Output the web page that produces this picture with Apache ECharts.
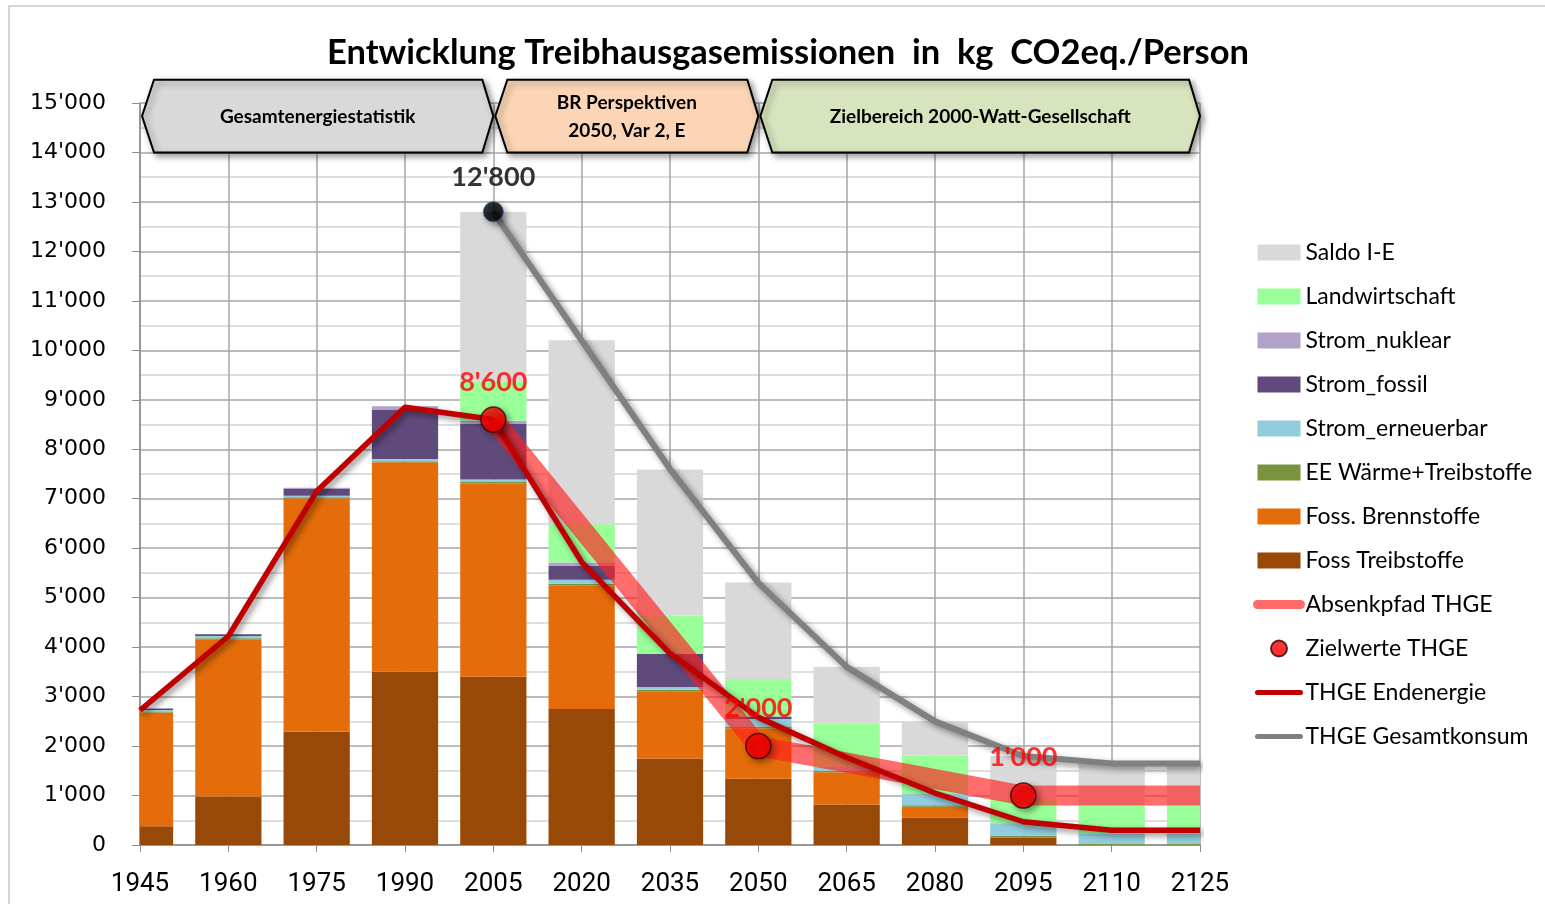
<!DOCTYPE html>
<html>
<head>
<meta charset="utf-8">
<script src="https://cdn.jsdelivr.net/npm/echarts@6/dist/echarts.min.js"></script>
<style>
html, body { margin: 0; padding: 0; background: #fff; }
#chart { width: 1545px; height: 904px; }
</style>
</head>
<body>
<div id="chart"></div>
<script>
var myChart = echarts.init(document.getElementById('chart'));

// Stuetzjahre
var years = [1945, 1960, 1975, 1990, 2005, 2020, 2035, 2050, 2065, 2080, 2095, 2110, 2125];

// gestapelte Anteile in kg CO2eq./Person (von unten nach oben)
var fossTreibstoffe   = [380, 980, 2290, 3500, 3400, 2750, 1750, 1340, 820, 550, 150, 0, 0];
var fossBrennstoffe   = [2300, 3180, 4720, 4240, 3910, 2490, 1360, 1020, 650, 225, 0, 0, 0];
var eeWaerme          = [20, 20, 20, 20, 30, 40, 30, 35, 30, 30, 35, 30, 30];
var stromErneuerbar   = [30, 45, 30, 45, 50, 80, 55, 150, 80, 225, 255, 205, 205];
var stromFossil       = [30, 35, 135, 1000, 1130, 285, 665, 55, 0, 0, 0, 0, 0];
var stromNuklear      = [0, 0, 25, 65, 55, 65, 0, 0, 0, 0, 0, 0, 0];
var landwirtschaft    = [0, 0, 0, 0, 800, 775, 780, 755, 880, 775, 470, 560, 560];
var saldoIE           = [0, 0, 0, 0, 3420, 3720, 2950, 1950, 1140, 695, 890, 855, 855];

// Linien
var endenergie        = [2720, 4220, 7150, 8850, 8600, 5720, 3870, 2580, 1770, 1050, 470, 300, 300];
var gesamtJahre       = [2005, 2020, 2035, 2050, 2065, 2080, 2095, 2110, 2125];
var gesamtkonsum      = [12800, 10200, 7600, 5300, 3600, 2500, 1800, 1650, 1650];
var absenkJahre       = [2005, 2050, 2095, 2125];
var absenkpfad        = [8600, 2000, 1000, 1000];
var zielJahre         = [2005, 2050, 2095];
var zielwerte         = [8600, 2000, 1000];
var spitzeJahr        = [2005];
var spitzeWert        = [12800];

// Zeitabschnitte oben
var abschnittNamen = ['Gesamtenergiestatistik', 'BR Perspektiven\n2050, Var 2, E', 'Zielbereich 2000-Watt-Gesellschaft'];
var abschnittVon   = [1945, 2005, 2050];
var abschnittBis   = [2005, 2050, 2125];

var pair = function (xs, ys) {
    return xs.map(function (x, i) { return [x, ys[i]]; });
};
var fmt = function (v) {
    return String(v).replace(/\B(?=(\d{3})+(?!\d))/g, "'");
};

var stackSeries = [
    { name: 'Foss Treibstoffe', data: fossTreibstoffe, color: '#984807' },
    { name: 'Foss. Brennstoffe', data: fossBrennstoffe, color: '#E46C0A' },
    { name: 'EE Wärme+Treibstoffe', data: eeWaerme, color: '#77933C' },
    { name: 'Strom_erneuerbar', data: stromErneuerbar, color: '#93CDDD' },
    { name: 'Strom_fossil', data: stromFossil, color: '#604A7B' },
    { name: 'Strom_nuklear', data: stromNuklear, color: '#B3A2C7' },
    { name: 'Landwirtschaft', data: landwirtschaft, color: '#99FF99' },
    { name: 'Saldo I-E', data: saldoIE, color: '#D9D9D9' }
];

var lineShadow = {
    shadowBlur: 6,
    shadowColor: 'rgba(0,0,0,0.45)',
    shadowOffsetX: 3,
    shadowOffsetY: 3
};

// Balken am Rand werden an der Zeichenflaeche abgeschnitten
var renderStackBar = function (params, api) {
    var lo = api.value(1), hi = api.value(2);
    if (hi <= lo) return null;
    var p0 = api.coord([api.value(0), lo]);
    var p1 = api.coord([api.value(0), hi]);
    var w = api.size([15, 0])[0] * 0.75;
    var cs = params.coordSys;
    var shape = echarts.graphic.clipRectByRect(
        { x: p0[0] - w / 2, y: p1[1], width: w, height: p0[1] - p1[1] },
        { x: cs.x, y: cs.y, width: cs.width, height: cs.height }
    );
    return shape && { type: 'rect', shape: shape, style: api.style() };
};

var base = years.map(function () { return 0; });
var series = stackSeries.map(function (s) {
    var d = years.map(function (y, i) {
        var lo = base[i];
        base[i] += s.data[i];
        return [y, lo, base[i]];
    });
    return {
        name: s.name,
        type: 'custom',
        renderItem: renderStackBar,
        encode: { x: 0, y: [1, 2] },
        data: d,
        itemStyle: { color: s.color },
        z: 2
    };
});

series.push({
    name: 'Absenkpfad THGE',
    type: 'line',
    data: pair(absenkJahre, absenkpfad),
    symbol: 'none',
    lineStyle: { color: 'rgba(255,30,30,0.65)', width: 20 },
    z: 3
});
series.push({
    name: 'THGE Endenergie',
    type: 'line',
    data: pair(years, endenergie),
    symbol: 'none',
    lineStyle: Object.assign({ color: '#C00000', width: 5.5 }, lineShadow),
    z: 4
});
series.push({
    name: 'THGE Gesamtkonsum',
    type: 'line',
    data: pair(gesamtJahre, gesamtkonsum),
    symbol: 'none',
    lineStyle: Object.assign({ color: '#808080', width: 6 }, lineShadow),
    z: 5
});
series.push({
    name: 'Zielwerte THGE',
    type: 'scatter',
    data: pair(zielJahre, zielwerte),
    symbolSize: 25,
    itemStyle: Object.assign({ color: '#FF0000', borderColor: '#3a0000', borderWidth: 1.5 }, lineShadow),
    label: {
        show: true,
        position: 'top',
        distance: 11,
        color: '#FF0000',
        fontFamily: 'Lato',
        fontWeight: 'bold',
        fontSize: 27,
        formatter: function (p) { return fmt(p.value[1]); }
    },
    z: 6
});
series.push({
    name: 'Spitze',
    type: 'scatter',
    data: pair(spitzeJahr, spitzeWert),
    symbolSize: 20,
    itemStyle: Object.assign({ color: '#000', borderColor: '#2f5d9a', borderWidth: 1 }, lineShadow),
    label: {
        show: true,
        position: 'top',
        distance: 11,
        color: '#000',
        fontFamily: 'Lato',
        fontWeight: 'bold',
        fontSize: 27,
        formatter: function (p) { return fmt(p.value[1]); }
    },
    z: 6
});

var noDot = { opacity: 0 };
var plainLine = { width: 5, cap: 'round', shadowBlur: 0, shadowOffsetX: 0, shadowOffsetY: 0 };

option = {
    backgroundColor: '#fff',
    animation: false,
    title: {
        text: 'Entwicklung Treibhausgasemissionen  in  kg  CO2eq./Person',
        left: 783,
        textAlign: 'center',
        top: 30,
        textStyle: { fontFamily: 'Lato', fontWeight: 'bold', fontSize: 34.5, color: '#000' }
    },
    legend: {
        orient: 'vertical',
        left: 1248,
        top: 236,
        itemWidth: 43,
        itemHeight: 16,
        itemGap: 21,
        textStyle: { fontFamily: 'Lato', fontSize: 23, color: '#000' },
        data: [
            { name: 'Saldo I-E', icon: 'rect' },
            { name: 'Landwirtschaft', icon: 'rect' },
            { name: 'Strom_nuklear', icon: 'rect' },
            { name: 'Strom_fossil', icon: 'rect' },
            { name: 'Strom_erneuerbar', icon: 'rect' },
            { name: 'EE Wärme+Treibstoffe', icon: 'rect' },
            { name: 'Foss. Brennstoffe', icon: 'rect' },
            { name: 'Foss Treibstoffe', icon: 'rect' },
            { name: 'Absenkpfad THGE', itemStyle: noDot, lineStyle: { width: 9, color: '#FF6B6B', cap: 'round' } },
            { name: 'Zielwerte THGE' },
            { name: 'THGE Endenergie', itemStyle: noDot, lineStyle: plainLine },
            { name: 'THGE Gesamtkonsum', itemStyle: noDot, lineStyle: plainLine }
        ]
    },
    grid: { left: 140, right: 345, top: 103, bottom: 59 },
    xAxis: {
        type: 'value',
        min: 1945,
        max: 2125,
        interval: 15,
        axisLine: { lineStyle: { color: '#8c8c8c', width: 1.5 } },
        axisTick: { show: true, length: 7, lineStyle: { color: '#8c8c8c' } },
        axisLabel: {
            margin: 26,
            color: '#000',
            fontFamily: 'Roboto',
            fontSize: 26,
            formatter: function (v) { return String(v); }
        },
        splitLine: { show: true, lineStyle: { color: '#a6a6a6', width: 1.5 } }
    },
    yAxis: {
        type: 'value',
        min: 0,
        max: 15000,
        interval: 1000,
        axisLine: { show: true, lineStyle: { color: '#8c8c8c', width: 1.5 } },
        axisTick: { show: true, length: 8, lineStyle: { color: '#8c8c8c' } },
        axisLabel: {
            margin: 34,
            color: '#000',
            fontFamily: 'DejaVu Sans',
            fontSize: 22,
            formatter: fmt
        },
        splitLine: { show: true, lineStyle: { color: '#a6a6a6', width: 1.5 } },
        minorTick: { show: false, splitNumber: 2 },
        minorSplitLine: { show: true, lineStyle: { color: '#d4d4d4', width: 1.5 } }
    },
    series: series
};

myChart.setOption(option);

// Abschnitts-Pfeile ueber den Balken
var graphics = [{
    type: 'rect',
    shape: { x: 9, y: 6, width: 1545, height: 1000 },
    style: { fill: 'none', stroke: '#c8c8c8', lineWidth: 1.5 },
    silent: true
}];
var fills = ['#D9D9D9', '#FBD5B5', '#D7E4BD'];
for (var i = 0; i < abschnittNamen.length; i++) {
    var p0 = myChart.convertToPixel({ xAxisIndex: 0, yAxisIndex: 0 }, [abschnittVon[i], 14000]);
    var p1 = myChart.convertToPixel({ xAxisIndex: 0, yAxisIndex: 0 }, [abschnittBis[i], 15470]);
    var x0 = p0[0] + 2, x1 = p1[0], yb = p0[1], yt = p1[1], ym = (yb + yt) / 2;
    graphics.push({
        type: 'polygon',
        z: 10,
        shape: { points: [[x0, ym], [x0 + 12, yt], [x1 - 11, yt], [x1, ym], [x1 - 11, yb], [x0 + 12, yb]] },
        style: {
            fill: fills[i], stroke: '#000', lineWidth: 2,
            shadowBlur: 6, shadowColor: 'rgba(0,0,0,0.4)', shadowOffsetX: 3, shadowOffsetY: 3
        }
    });
    graphics.push({
        type: 'text',
        z: 11,
        style: {
            text: abschnittNamen[i],
            x: (x0 + x1) / 2,
            y: ym + 1,
            align: 'center',
            verticalAlign: 'middle',
            lineHeight: 28,
            font: 'bold 19px Lato',
            fill: '#000'
        }
    });
}
myChart.setOption({ graphic: graphics });
</script>
</body>
</html>
